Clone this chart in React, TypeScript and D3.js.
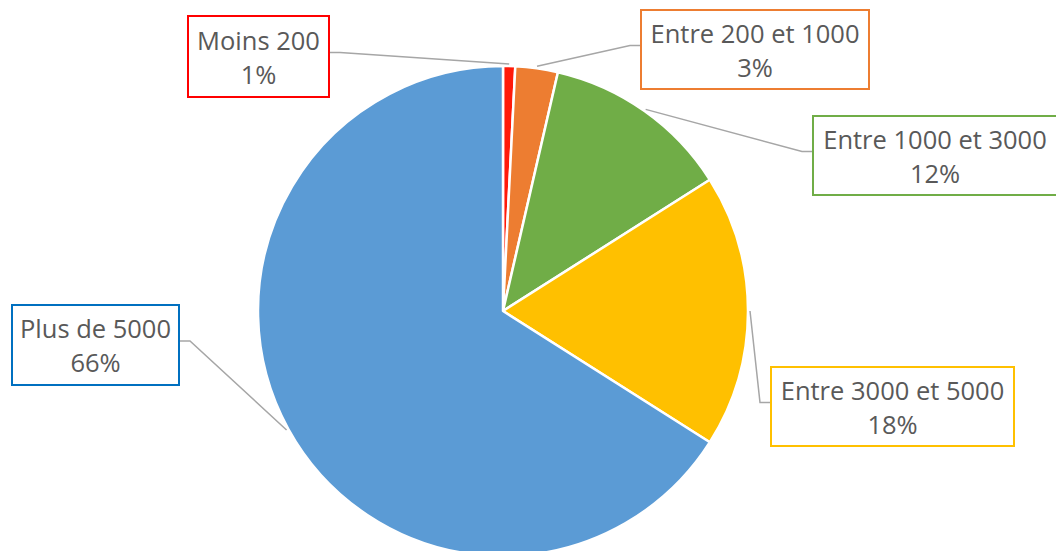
import React from "react";
import * as d3 from "d3";

const categories = ["Moins 200", "Entre 200 et 1000", "Entre 1000 et 3000", "Entre 3000 et 5000", "Plus de 5000"];
const values = [0.8, 2.8, 12.4, 18.0, 66.0];
const sliceColors = ["#FF1A0A", "#ED7D31", "#70AD47", "#FFC000", "#5B9BD5"];
const borderColors = ["#FF0000", "#ED7D31", "#70AD47", "#FFC000", "#0070C0"];

// label box layout (pixels)
const labelBoxes = [
  { x: 188, y: 16, w: 141, h: 81, side: "left" },
  { x: 641, y: 10, w: 228, h: 79, side: "right" },
  { x: 813, y: 116, w: 244, h: 79, side: "right" },
  { x: 771, y: 367, w: 243, h: 79, side: "right" },
  { x: 12, y: 305, w: 167, h: 80, side: "left" },
];

const W = 1056, H = 551;
const cx = 503, cy = 311, R = 245;

export default function App() {
  const total = d3.sum(values);
  const pie = d3.pie<number>().sort(null).value((d) => d);
  const arcs = pie(values);
  const arc = d3.arc<d3.PieArcDatum<number>>().innerRadius(0).outerRadius(R);
  const fmt = d3.format(".0%");
  const font = "'Open Sans', sans-serif";

  return (
    <svg width={W} height={H} style={{ position: "absolute", left: 0, top: 0, background: "#fff" }}>
      <g transform={`translate(${cx},${cy})`}>
        {arcs.map((a, i) => (
          <path key={i} d={arc(a) || ""} fill={sliceColors[i]} stroke="#fff" strokeWidth={2.5} strokeLinejoin="round" />
        ))}
      </g>
      {arcs.map((a, i) => {
        const b = labelBoxes[i];
        const mid = (a.startAngle + a.endAngle) / 2;
        const ar = R + 2;
        const ax = cx + ar * Math.sin(mid);
        const ay = cy - ar * Math.cos(mid);
        const attachY = b.y + b.h / 2 - 4;
        const edgeX = b.side === "right" ? b.x : b.x + b.w;
        const elbowX = b.side === "right" ? edgeX - 11 : edgeX + 11;
        const line = d3.line()([[edgeX, attachY], [elbowX, attachY], [ax, ay]]) || "";
        const tcx = b.x + b.w / 2;
        const tcy = b.y + b.h / 2;
        return (
          <g key={i}>
            <path d={line} fill="none" stroke="#A6A6A6" strokeWidth={1.5} />
            <rect x={b.x} y={b.y} width={b.w} height={b.h} fill="#fff" stroke={borderColors[i]} strokeWidth={2} />
            <text x={tcx} y={tcy - 7} textAnchor="middle" fontFamily={font} fontSize={25.5} fill="#595959">
              {categories[i]}
            </text>
            <text x={tcx} y={tcy + 27} textAnchor="middle" fontFamily={font} fontSize={25.5} fill="#595959">
              {fmt(values[i] / total)}
            </text>
          </g>
        );
      })}
    </svg>
  );
}
